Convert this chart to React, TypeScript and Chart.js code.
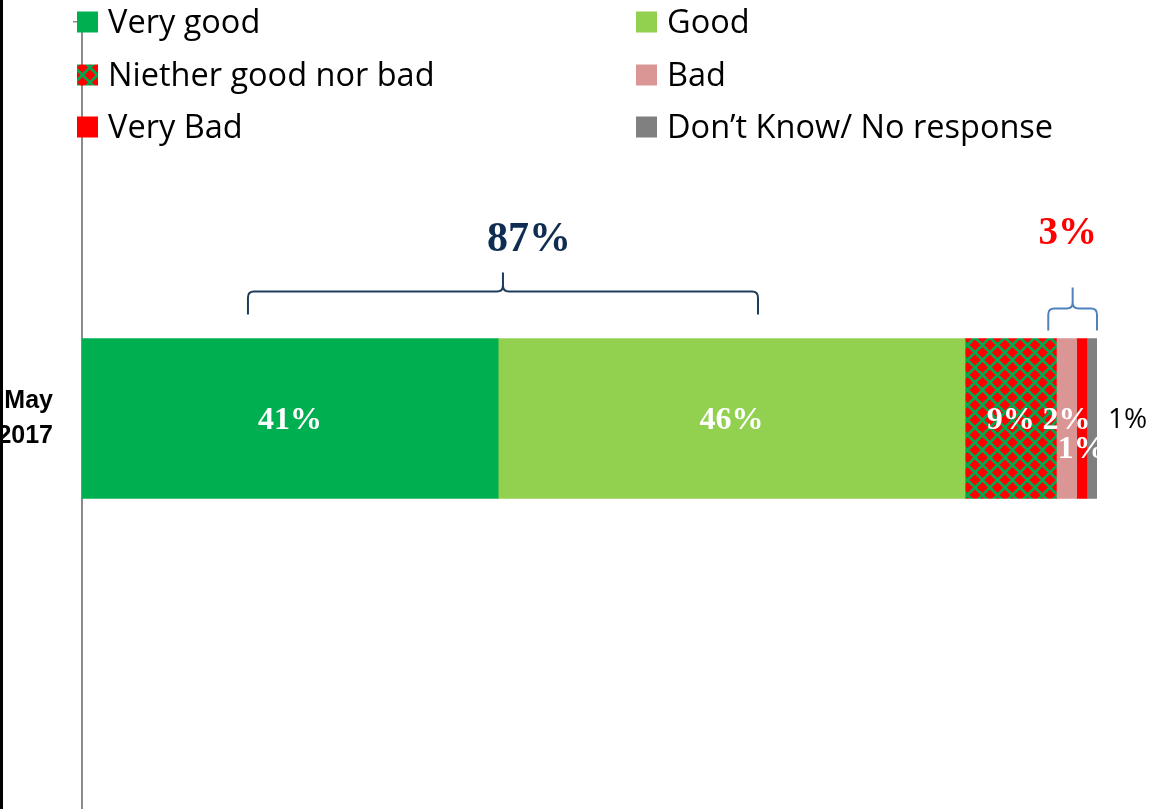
import React, { useEffect, useRef } from 'react';
import { Chart, registerables } from 'chart.js';

Chart.register(...registerables);

// ---- data ----
const categories = [['May', '2017']];
const seriesNames = [
  'Very good',
  'Good',
  'Niether good nor bad',
  'Bad',
  'Very Bad',
  'Don\u2019t Know/ No response',
];
const veryGood = [41];
const good = [46];
const neither = [9];
const bad = [2];
const veryBad = [1];
const dontKnow = [1];
const seriesValues = [veryGood, good, neither, bad, veryBad, dontKnow];

// groups summarised with braces (indexes into the series)
const positiveGroup = [0, 1];
const negativeGroup = [3, 4];
// brace spans on the value axis (as drawn in the original)
const positiveBraceSpan = [16.35, 66.6];
const negativeBraceSpan = [95.2, 100];

// ---- styles ----
const colors = ['#00b050', '#92d050', 'PATTERN', '#da9694', '#ff0000', '#808080'];

function makePattern(): CanvasPattern | string {
  const s = 15;
  const c = document.createElement('canvas');
  c.width = s;
  c.height = s;
  const g = c.getContext('2d');
  if (!g) return '#00b050';
  g.fillStyle = '#00a84f';
  g.fillRect(0, 0, s, s);
  g.fillStyle = '#ff0000';
  const h = 5.6;
  const diamond = (cx: number, cy: number) => {
    g.beginPath();
    g.moveTo(cx, cy - h);
    g.lineTo(cx + h, cy);
    g.lineTo(cx, cy + h);
    g.lineTo(cx - h, cy);
    g.closePath();
    g.fill();
  };
  diamond(s / 2, s / 2);
  diamond(0, 0);
  diamond(s, 0);
  diamond(0, s);
  diamond(s, s);
  const ctx2 = document.createElement('canvas').getContext('2d');
  return (ctx2 as CanvasRenderingContext2D).createPattern(c, 'repeat') || '#00b050';
}

function drawBrace(
  ctx: CanvasRenderingContext2D,
  x1: number,
  x2: number,
  yEnd: number,
  yLine: number,
  yPeak: number,
  color: string,
  lw: number
) {
  const xc = (x1 + x2) / 2;
  const r = Math.min(6, (x2 - x1) / 6);
  ctx.save();
  ctx.strokeStyle = color;
  ctx.lineWidth = lw;
  ctx.lineJoin = 'round';
  ctx.beginPath();
  ctx.moveTo(x1, yEnd);
  ctx.lineTo(x1, yLine + r);
  ctx.quadraticCurveTo(x1, yLine, x1 + r, yLine);
  ctx.lineTo(xc - r, yLine);
  ctx.quadraticCurveTo(xc, yLine, xc, yLine - r);
  ctx.lineTo(xc, yPeak);
  ctx.moveTo(x2, yEnd);
  ctx.lineTo(x2, yLine + r);
  ctx.quadraticCurveTo(x2, yLine, x2 - r, yLine);
  ctx.lineTo(xc + r, yLine);
  ctx.quadraticCurveTo(xc, yLine, xc, yLine - r);
  ctx.stroke();
  ctx.restore();
}

const overlayPlugin = {
  id: 'overlay',
  afterDatasetsDraw(chart: any) {
    const ctx: CanvasRenderingContext2D = chart.ctx;
    const n = chart.data.datasets.length;
    const bars = chart.data.datasets.map((_: any, i: number) => chart.getDatasetMeta(i).data[0]);
    const first = bars[0];
    const last = bars[n - 1];
    const barEnd = last.x;
    const barTop = first.y - 80;

    // value labels inside bars (white serif), clipped to bar extent
    ctx.save();
    ctx.beginPath();
    ctx.rect(chart.chartArea.left, 0, barEnd - chart.chartArea.left, chart.height);
    ctx.clip();
    ctx.fillStyle = '#ffffff';
    ctx.font = 'bold 32px "Liberation Serif", serif';
    ctx.textAlign = 'center';
    ctx.textBaseline = 'middle';
    for (let i = 0; i < n - 1; i++) {
      const b = bars[i];
      const v = chart.data.datasets[i].data[0];
      const cx = (b.base + b.x) / 2;
      const dy = i === 4 ? 31 : 2;
      ctx.fillText(v + '%', cx, b.y + dy);
    }
    ctx.restore();

    // last series label outside
    ctx.save();
    ctx.fillStyle = '#000000';
    ctx.font = '28px "Open Sans", sans-serif';
    ctx.textAlign = 'left';
    ctx.textBaseline = 'middle';
    ctx.fillText(chart.data.datasets[n - 1].data[0] + '%', barEnd + 11, last.y + 2);
    ctx.restore();

    const xs = chart.scales.x;
    // positive group brace and total
    const posTotal = positiveGroup.reduce((a, i) => a + chart.data.datasets[i].data[0], 0);
    const px1 = xs.getPixelForValue(positiveBraceSpan[0]);
    const px2 = xs.getPixelForValue(positiveBraceSpan[1]);
    drawBrace(ctx, px1, px2, barTop - 24, barTop - 47, barTop - 66, '#1f3b5c', 2);
    ctx.save();
    ctx.fillStyle = '#0f2d52';
    ctx.font = 'bold 42px "Liberation Serif", serif';
    ctx.textAlign = 'center';
    ctx.textBaseline = 'middle';
    ctx.fillText(posTotal + '%', (px1 + px2) / 2 + 26, barTop - 98);
    ctx.restore();

    // negative group brace and total
    const negTotal = negativeGroup.reduce((a, i) => a + chart.data.datasets[i].data[0], 0);
    const nx1 = xs.getPixelForValue(negativeBraceSpan[0]);
    const nx2 = xs.getPixelForValue(negativeBraceSpan[1]);
    drawBrace(ctx, nx1, nx2, barTop - 8, barTop - 30, barTop - 51, '#4f81bd', 2);
    ctx.save();
    ctx.fillStyle = '#ff0000';
    ctx.font = 'bold 39px "Liberation Serif", serif';
    ctx.textAlign = 'center';
    ctx.textBaseline = 'middle';
    ctx.fillText(negTotal + '%', (nx1 + nx2) / 2 - 5, barTop - 105);
    ctx.restore();
  },
  afterDraw(chart: any) {
    const ctx: CanvasRenderingContext2D = chart.ctx;
    // legend: two columns, three rows
    const colX = [77, 636];
    const rowY = [22, 75, 127];
    ctx.save();
    chart.data.datasets.forEach((ds: any, i: number) => {
      const col = i % 2;
      const row = Math.floor(i / 2);
      const x = colX[col];
      const y = rowY[row];
      ctx.fillStyle = ds.backgroundColor;
      ctx.fillRect(x, y - 10.5, 21, 21);
      ctx.fillStyle = '#000000';
      ctx.font = '32.5px "Open Sans", sans-serif';
      ctx.textAlign = 'left';
      ctx.textBaseline = 'alphabetic';
      ctx.fillText(ds.label, x + 31, y + 11);
    });
    ctx.restore();
    // black frame line at left edge
    ctx.save();
    ctx.fillStyle = '#000000';
    ctx.fillRect(0, 0, 3, chart.height);
    ctx.restore();
  },
};

export default function App() {
  const ref = useRef<HTMLCanvasElement | null>(null);

  useEffect(() => {
    document.body.style.margin = '0';
    document.body.style.overflow = 'hidden';
    document.documentElement.style.overflow = 'hidden';
    const canvas = ref.current;
    if (!canvas) return;
    const pattern = makePattern();
    const datasets = seriesNames.map((name, i) => ({
      label: name,
      data: seriesValues[i],
      backgroundColor: colors[i] === 'PATTERN' ? pattern : colors[i],
      borderWidth: 0,
      barThickness: 160,
    }));
    const chart = new Chart(canvas, {
      type: 'bar',
      data: { labels: categories as any, datasets: datasets as any },
      options: {
        indexAxis: 'y',
        responsive: false,
        animation: false,
        devicePixelRatio: 1,
        layout: { padding: { top: 22, right: 55, left: 0, bottom: 0 } },
        plugins: {
          legend: { display: false },
          tooltip: { enabled: false },
        },
        scales: {
          x: { stacked: true, display: false, min: 0, max: 100 },
          y: {
            stacked: true,
            grid: {
              display: true,
              drawOnChartArea: false,
              drawTicks: true,
              tickLength: 9,
              color: '#8a8a8a',
              lineWidth: 1.5,
              offset: true,
            },
            border: { display: true, color: '#8a8a8a', width: 2 },
            ticks: {
              color: '#000000',
              padding: 20,
              font: { family: '"Liberation Sans", Arial, sans-serif', weight: 'bold', size: 25, lineHeight: 1.4 },
            },
            afterFit: (s: any) => {
              s.width = 82;
              s.paddingTop = 0;
              s.paddingBottom = 0;
            },
          },
        },
      } as any,
      plugins: [overlayPlugin as any],
    });
    return () => chart.destroy();
  }, []);

  return (
    <div style={{ width: 1152, height: 815, position: 'relative', overflow: 'hidden' }}>
      <canvas ref={ref} width={1152} height={815} style={{ display: 'block' }} />
    </div>
  );
}
